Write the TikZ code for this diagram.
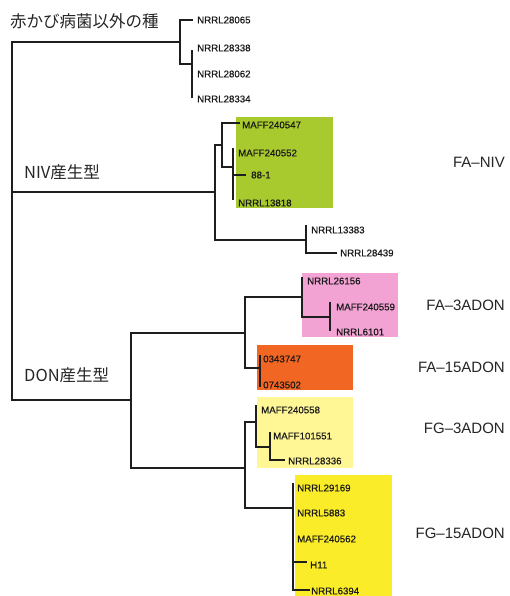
\documentclass[tikz,border=0pt]{standalone}
\usepackage{fontspec}
\setmainfont{Liberation Sans}
\newfontfamily\jpfont{Noto Sans CJK JP}
\newfontfamily\leaffont[FakeBold=0.4]{Liberation Sans}
\definecolor{cniv}{RGB}{168,202,46}
\definecolor{cfa3}{RGB}{243,162,212}
\definecolor{cfa15}{RGB}{242,102,36}
\definecolor{cfg3}{RGB}{255,246,150}
\definecolor{cfg15}{RGB}{250,236,40}
\definecolor{lin}{RGB}{30,30,30}
\begin{document}
\begin{tikzpicture}[x=1pt,y=-1pt,
  br/.style={draw=lin,line width=1.3pt},
  leaf/.style={anchor=west,inner sep=0pt,text=black!90,font=\leaffont\fontsize{9.7}{10}\selectfont},
  grp/.style={anchor=west,inner sep=0pt,text=black!85,font=\jpfont\fontsize{16.5}{18}\selectfont},
  typ/.style={anchor=east,inner sep=0pt,text=black!85,font=\fontsize{15}{17}\selectfont}]
\useasboundingbox (0,0) rectangle (509,596);
\fill[white] (0,0) rectangle (509,596);
% colored boxes
\fill[cniv]  (236,117) rectangle (333,208);
\fill[cfa3]  (302,273) rectangle (398,337);
\fill[cfa15] (257,345) rectangle (353,390);
\fill[cfg3]  (257,397) rectangle (353,468);
\fill[cfg15] (295,475) rectangle (392,596);
% internal nodes
\coordinate (R)  at (12,192);
\coordinate (A)  at (180,42);
\coordinate (A2) at (192,64);
\coordinate (NIV) at (215,192);
\coordinate (N1) at (222,145);
\coordinate (N3) at (233,167);
\coordinate (N2) at (306,240);
\coordinate (DON) at (131,400);
\coordinate (D1) at (245,333);
\coordinate (D3) at (302,297);
\coordinate (D5) at (330,317);
\coordinate (D4) at (260,368);
\coordinate (D2) at (245,468);
\coordinate (D6) at (256,422);
\coordinate (D8) at (270,447);
\coordinate (D7) at (293,508);
% leaf ends
\coordinate (l1) at (193,20);
\coordinate (l2) at (192,50);
\coordinate (l3) at (192,73);
\coordinate (l4) at (192,98);
\coordinate (l5) at (240,123);
\coordinate (l6) at (233,148);
\coordinate (l7) at (246,175);
\coordinate (l8) at (233,200);
\coordinate (l9) at (306,225);
\coordinate (l10) at (337,253);
\coordinate (l11) at (302,277);
\coordinate (l12) at (330,302);
\coordinate (l13) at (330,331);
\coordinate (l14) at (260,355);
\coordinate (l15) at (260,387);
\coordinate (l16) at (256,405);
\coordinate (l17) at (270,432);
\coordinate (l18) at (285,460);
\coordinate (l19) at (293,483);
\coordinate (l20) at (307,562);
\coordinate (l21) at (310,590);
% branches
\draw[br] (R) |- (A);
\draw[br] (R) -- (NIV);
\draw[br] (R) |- (DON);
\draw[br] (A) |- (l1);
\draw[br] (A) |- (A2);
\draw[br] (A2) |- (l2);
\draw[br] (A2) |- (l4);
\draw[br] (NIV) |- (N1);
\draw[br] (NIV) |- (N2);
\draw[br] (N1) |- (l5);
\draw[br] (N1) |- (N3);
\draw[br] (N3) |- (l6);
\draw[br] (N3) |- (l7);
\draw[br] (N3) |- (l8);
\draw[br] (N2) |- (l9);
\draw[br] (N2) |- (l10);
\draw[br] (DON) |- (D1);
\draw[br] (DON) |- (D2);
\draw[br] (D1) |- (D3);
\draw[br] (D1) |- (D4);
\draw[br] (D3) |- (l11);
\draw[br] (D3) |- (D5);
\draw[br] (D5) |- (l12);
\draw[br] (D5) |- (l13);
\draw[br] (D4) |- (l14);
\draw[br] (D4) |- (l15);
\draw[br] (D2) |- (D6);
\draw[br] (D2) |- (D7);
\draw[br] (D6) |- (l16);
\draw[br] (D6) |- (D8);
\draw[br] (D8) |- (l17);
\draw[br] (D8) |- (l18);
\draw[br] (D7) |- (l19);
\draw[br] (D7) |- (l20);
\draw[br] (D7) |- (l21);
% leaf labels
\node[leaf] (t1)  at (197,20)  {NRRL28065};
\node[leaf] (t2)  at (197,48)  {NRRL28338};
\node[leaf] (t3)  at (197,74)  {NRRL28062};
\node[leaf] (t4)  at (197,99)  {NRRL28334};
\node[leaf] (t5)  at (242,125) {MAFF240547};
\node[leaf] (t6)  at (238,153) {MAFF240552};
\node[leaf] (t7)  at (251,175) {88-1};
\node[leaf] (t8)  at (238,203) {NRRL13818};
\node[leaf] (t9)  at (311,230) {NRRL13383};
\node[leaf] (t10) at (340,253) {NRRL28439};
\node[leaf] (t11) at (307,281) {NRRL26156};
\node[leaf] (t12) at (336,307) {MAFF240559};
\node[leaf] (t13) at (336,332) {NRRL6101};
\node[leaf] (t14) at (263,359) {0343747};
\node[leaf] (t15) at (263,385) {0743502};
\node[leaf] (t16) at (261,410) {MAFF240558};
\node[leaf] (t17) at (273,436) {MAFF101551};
\node[leaf] (t18) at (288,461) {NRRL28336};
\node[leaf] (t19) at (297,488) {NRRL29169};
\node[leaf] (t20) at (297,513) {NRRL5883};
\node[leaf] (t21) at (297,539) {MAFF240562};
\node[leaf] (t22) at (310,565) {H11};
\node[leaf] (t23) at (311,591) {NRRL6394};
% group labels
\node[grp] (g1) at (10,21)  {赤かび病菌以外の種};
\node[grp] (g2) at (24,172) {NIV産生型};
\node[grp] (g3) at (24,375) {DON産生型};
% type labels
\node[typ] (y1) at (505,162) {FA–NIV};
\node[typ] (y2) at (505,305) {FA–3ADON};
\node[typ] (y3) at (505,367) {FA–15ADON};
\node[typ] (y4) at (505,428) {FG–3ADON};
\node[typ] (y5) at (505,533) {FG–15ADON};
\end{tikzpicture}
\end{document}
